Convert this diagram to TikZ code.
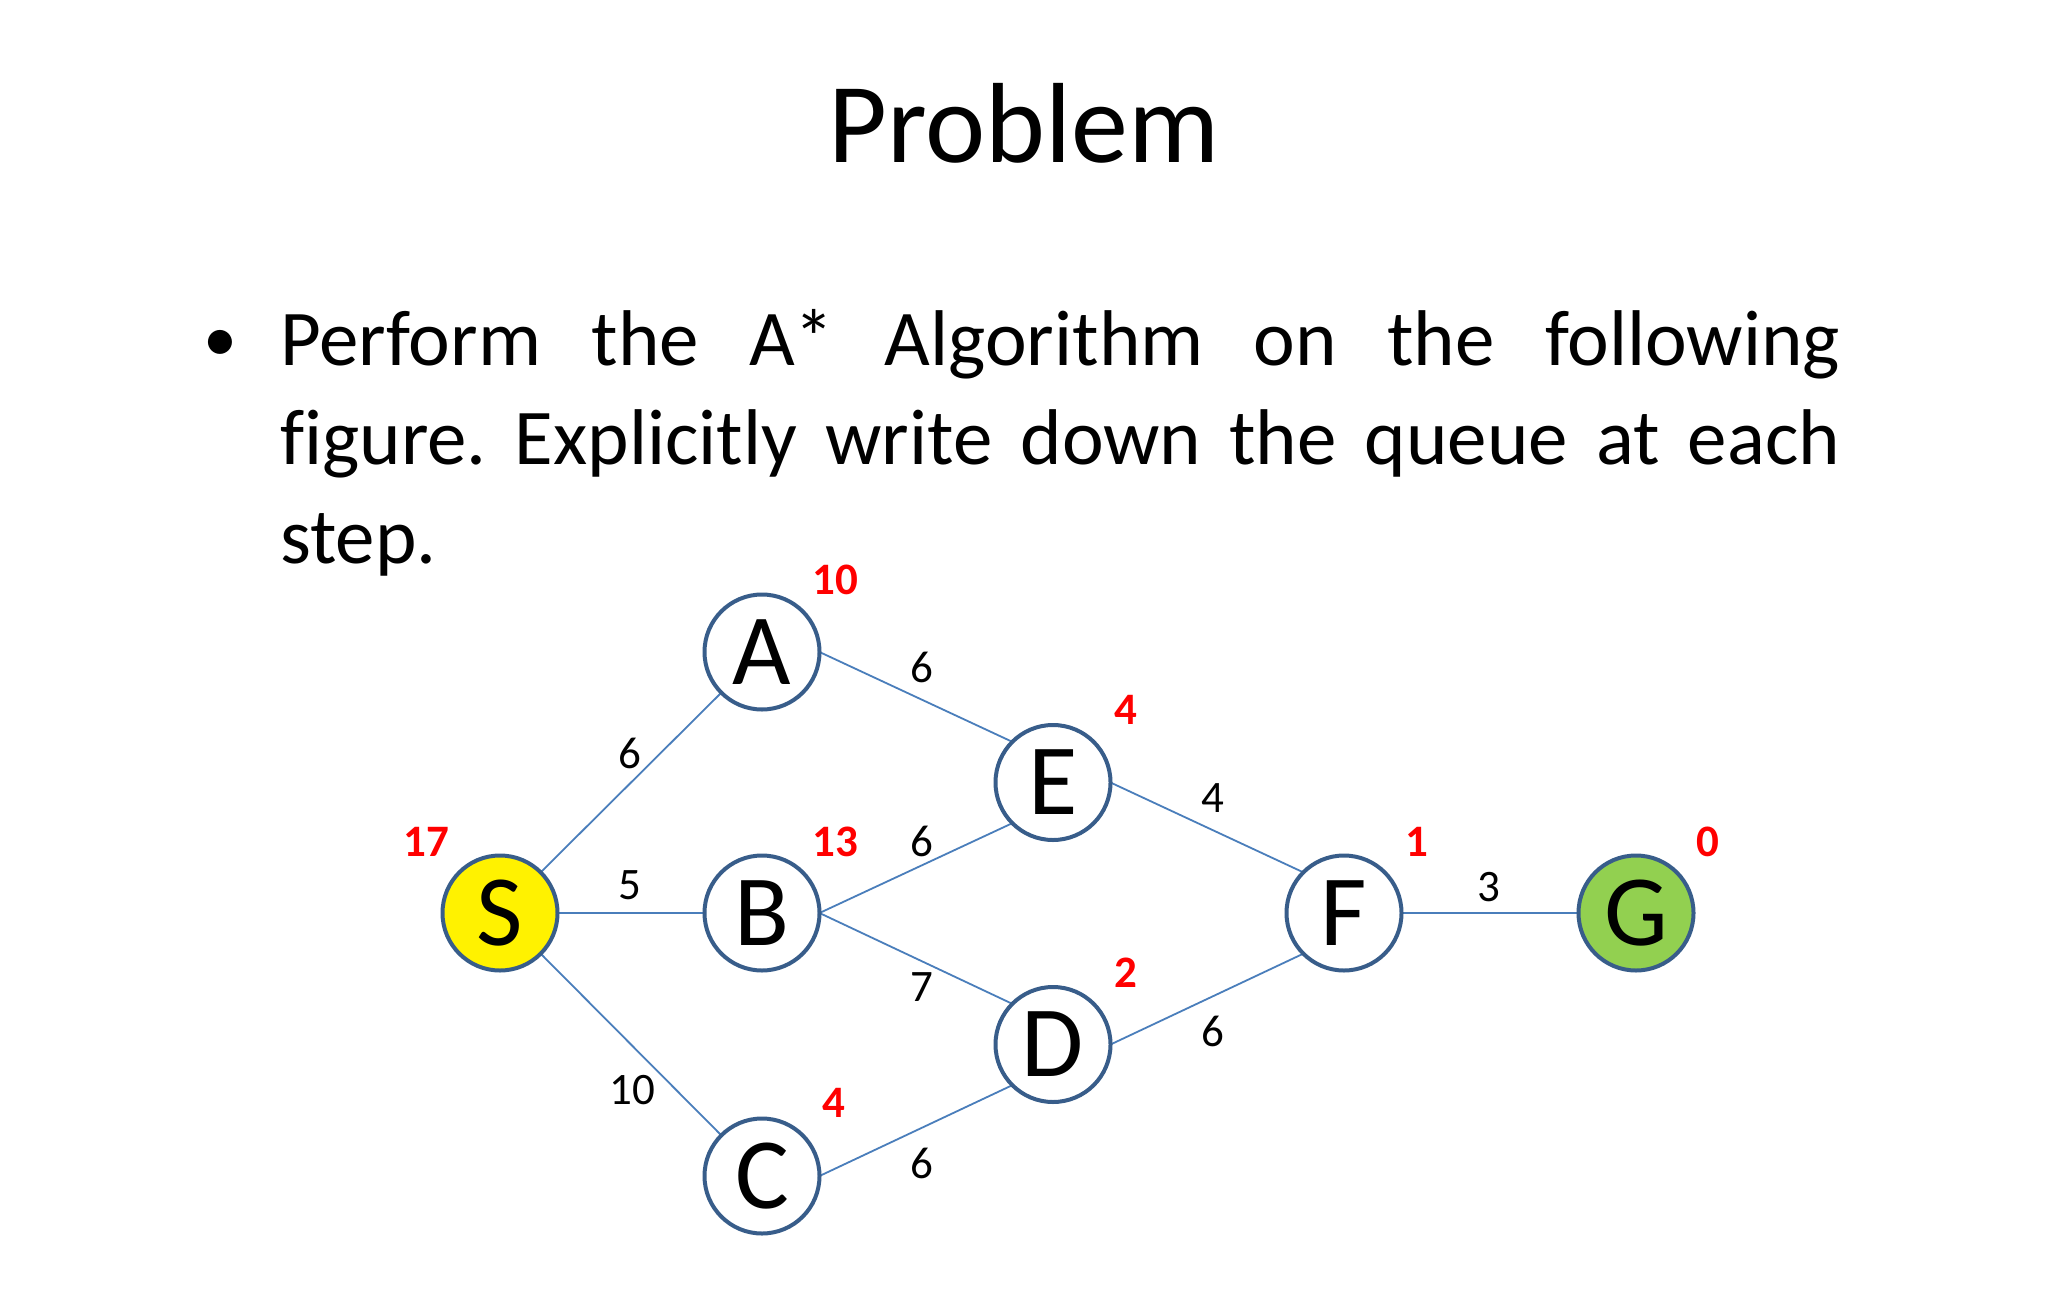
\documentclass[tikz,border=0pt]{standalone}
\usepackage{fontspec}
\setmainfont{Carlito}[Ligatures=CommonOff]
\usetikzlibrary{backgrounds}
\definecolor{nodeblue}{RGB}{56,93,138}
\definecolor{edgeblue}{RGB}{74,126,187}
\definecolor{goalgreen}{RGB}{146,208,80}
\frenchspacing
\begin{document}
\begin{tikzpicture}[x=1pt,y=-1pt,
  vert/.style={circle,draw=nodeblue,line width=4pt,minimum size=115pt,inner sep=0pt,outer sep=0pt,fill=white,font=\fontsize{101}{101}\selectfont},
  hval/.style={text=red,font=\fontsize{45}{45}\selectfont\bfseries,inner sep=0pt},
  wlab/.style={font=\fontsize{45}{45}\selectfont,inner sep=0pt},
  edge/.style={draw=edgeblue,line width=1.8pt},
  bodytext/.style={font=\fontsize{79}{99}\selectfont,inner sep=0pt,anchor=base west}]
\useasboundingbox (0,0) rectangle (2048,1303);
% title and text
\node[font=\fontsize{114}{114}\selectfont,inner sep=0pt,anchor=base] (title) at (1024,162.7) {Problem};
\node[font=\fontsize{68}{68}\selectfont,inner sep=0pt,anchor=base] (bullet) at (220,361) {•};
\node[bodytext] (l1) at (280,365) {\makebox[1560pt][s]{Perform the A* Algorithm on the following}};
\node[bodytext] (l2) at (280,464) {\makebox[1560pt][s]{figure. Explicitly write down the queue at each}};
\node[bodytext] (l3) at (280,563) {step.};
% vertices
\node[vert,fill=yellow] (S) at (500,913) {S};
\node[vert] (A) at (762,652) {A};
\node[vert] (B) at (762,913) {B};
\node[vert] (C) at (762,1176) {C};
\node[vert] (E) at (1053,782.5) {E};
\node[vert] (D) at (1053,1044.5) {D};
\node[vert] (F) at (1344,913) {F};
\node[vert,fill=goalgreen] (G) at (1636,913) {G};
% edges
\begin{scope}[on background layer]
\fill[white] (0,0) rectangle (2048,1303);
\draw[edge] (S.north east) -- (A.south west);
\draw[edge] (S.east) -- (B.west);
\draw[edge] (S.south east) -- (C.north west);
\draw[edge] (A.east) -- (E.north west);
\draw[edge] (B.east) -- (E.south west);
\draw[edge] (B.east) -- (D.north west);
\draw[edge] (C.east) -- (D.south west);
\draw[edge] (E.east) -- (F.north west);
\draw[edge] (D.east) -- (F.south west);
\draw[edge] (F.east) -- (G.west);
\end{scope}
% heuristic values
\node[hval] (hS) at (426.7,841.7) {17};
\node[hval] (hA) at (835,580) {10};
\node[hval] (hB) at (835,841.7) {13};
\node[hval] (hC) at (834,1103) {4};
\node[hval] (hE) at (1125.7,710) {4};
\node[hval] (hD) at (1125.7,973) {2};
\node[hval] (hF) at (1416.7,841.7) {1};
\node[hval] (hG) at (1708,841.7) {0};
% edge weights
\node[wlab] (wSA) at (630,753) {6};
\node[wlab] (wSB) at (630,885) {5};
\node[wlab] (wSC) at (632,1090) {10};
\node[wlab] (wAE) at (922,667) {6};
\node[wlab] (wBE) at (922,841) {6};
\node[wlab] (wBD) at (922,987) {7};
\node[wlab] (wCD) at (922,1163) {6};
\node[wlab] (wEF) at (1213,798) {4};
\node[wlab] (wDF) at (1213,1031.7) {6};
\node[wlab] (wFG) at (1489,887) {3};
\end{tikzpicture}
\end{document}
